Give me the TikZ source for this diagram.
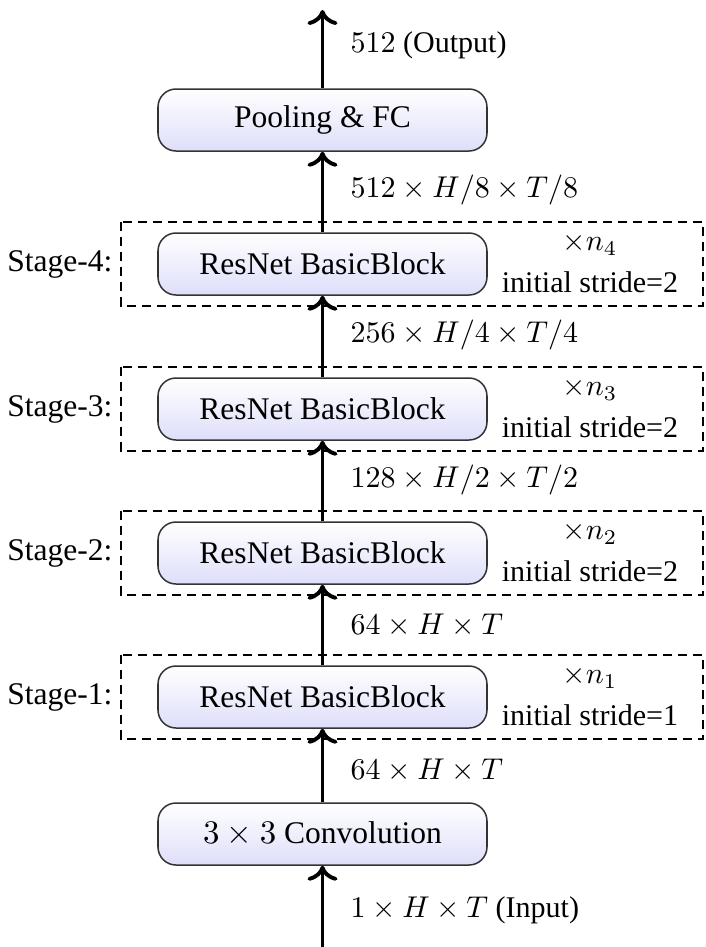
\documentclass[tikz,border=0pt]{standalone}
\usepackage{fontspec}
\setmainfont{Liberation Serif}
\usetikzlibrary{arrows.meta}
\definecolor{boxbot}{RGB}{222,222,250}
\newlength{\pxu}
\setlength{\pxu}{0.333pt}
\tikzset{
  block/.style={draw=black!80, line width=0.5pt, rounded corners=6pt,
    top color=white, bottom color=boxbot, minimum width=329\pxu, minimum height=62\pxu,
    inner sep=0pt, font=\fontsize{10.5}{12}\selectfont},
  stagebox/.style={draw, line width=0.9pt, dash pattern=on 3pt off 2pt},
  flow/.style={-{To[length=5pt,width=10pt]}, line width=1.3pt},
  dimlab/.style={anchor=west, inner sep=0pt, font=\fontsize{10}{12}\selectfont},
  stagelab/.style={anchor=east, inner sep=0pt, font=\fontsize{10.5}{12}\selectfont},
  replab/.style={inner sep=0pt, font=\fontsize{10}{12}\selectfont, align=center}
}
\begin{document}
\begin{tikzpicture}[x=0.333pt,y=-0.333pt]
\useasboundingbox (0,0) rectangle (706,947);
% stage dashed boxes
\foreach \yy in {264, 409, 553, 697}{
  \draw[stagebox] (121,\yy-42) rectangle (703,\yy+42);
}
% blocks
\node[block] (pool) at (322.5,120) {Pooling \& FC};
\node[block] (b4) at (322.5,264) {ResNet BasicBlock};
\node[block] (b3) at (322.5,409) {ResNet BasicBlock};
\node[block] (b2) at (322.5,553) {ResNet BasicBlock};
\node[block] (b1) at (322.5,697) {ResNet BasicBlock};
\node[block] (conv) at (322.5,834) {$3\times3$ Convolution};
% free ends
\coordinate (out) at (322.5,10);
\coordinate (in) at (322.5,947);
% arrows
\draw[flow] (pool.north) -- (out);
\draw[flow] (b4.north) -- (pool.south);
\draw[flow] (b3.north) -- (b4.south);
\draw[flow] (b2.north) -- (b3.south);
\draw[flow] (b1.north) -- (b2.south);
\draw[flow] (conv.north) -- (b1.south);
\draw[flow] (in) -- (conv.south);
% dimension labels
\node[dimlab] (l0) at (350,45) {$512$ (Output)};
\node[dimlab] (l1) at (350,190) {$512\times H/8\times T/8$};
\node[dimlab] (l2) at (350,335) {$256\times H/4\times T/4$};
\node[dimlab] (l3) at (350,480) {$128\times H/2\times T/2$};
\node[dimlab] (l4) at (350,625) {$64\times H\times T$};
\node[dimlab] (l5) at (350,770) {$64\times H\times T$};
\node[dimlab] (l6) at (350,910) {$1\times H\times T$ (Input)};
% stage labels
\node[stagelab] (st4) at (113,264) {Stage-4:};
\node[stagelab] (st3) at (113,409) {Stage-3:};
\node[stagelab] (st2) at (113,553) {Stage-2:};
\node[stagelab] (st1) at (113,697) {Stage-1:};
% repetition labels
\node[replab] (r4a) at (590,244) {$\times n_4$};
\node[replab] (r4b) at (590,282) {initial stride=2};
\node[replab] (r3a) at (590,389) {$\times n_3$};
\node[replab] (r3b) at (590,427) {initial stride=2};
\node[replab] (r2a) at (590,533) {$\times n_2$};
\node[replab] (r2b) at (590,571) {initial stride=2};
\node[replab] (r1a) at (590,677) {$\times n_1$};
\node[replab] (r1b) at (590,715) {initial stride=1};
\end{tikzpicture}
\end{document}
